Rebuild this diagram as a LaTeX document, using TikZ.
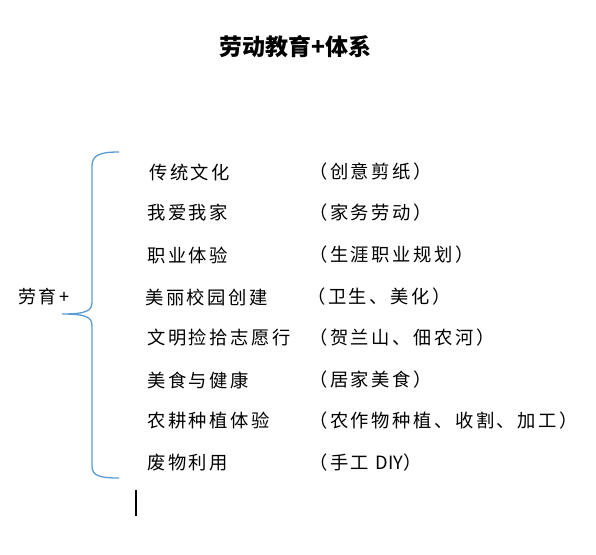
\documentclass[tikz,border=0pt]{standalone}
\usepackage{fontspec}
\newfontfamily\cjk[LetterSpace=14]{Noto Sans CJK SC}
\newfontfamily\cjkplain{Noto Sans CJK SC}
\definecolor{bracblue}{RGB}{91,155,213}
\usetikzlibrary{positioning}

\begin{document}
\begin{tikzpicture}[x=1pt,y=-1pt,
  laoitem/.style={anchor=west,inner sep=0pt,font=\cjk\fontsize{18.3}{20}\selectfont},
  laonote/.style={anchor=west,inner sep=0pt,font=\cjk\fontsize{18.3}{20}\selectfont},
  laobrace/.style={draw=bracblue,line width=1.3pt}
]
  \useasboundingbox (0,0) rectangle (596,554);

  % Title
  \node[font=\cjkplain\bfseries\fontsize{23}{26}\selectfont,inner sep=0pt] (title) at (295,47) {劳动教育+体系};

  % Root label
  \node[anchor=west,inner sep=0pt,font=\cjk\fontsize{18}{20}\selectfont] (lao) at (18,297) {劳育+};

  % Brace
  \coordinate (brtop) at (119,152);
  \coordinate (brtip) at (62,314);
  \coordinate (brbot) at (119,478);
  \draw[laobrace] (brtop) .. controls (100,152) and (92,155) .. (92,166) -- (92,302)
    .. controls (92,311) and (86,314) .. (brtip)
    .. controls (86,314) and (92,317) .. (92,326) -- (92,466)
    .. controls (92,476) and (100,478) .. (brbot);

  % Items
  \node[laoitem] (i1) at (149,172) {传统文化};
  \node[laoitem] (i2) at (147,213) {我爱我家};
  \node[laoitem] (i3) at (147,255) {职业体验};
  \node[laoitem] (i4) at (145,297) {美丽校园创建};
  \node[laoitem] (i5) at (147,338) {文明捡拾志愿行};
  \node[laoitem] (i6) at (147,380) {美食与健康};
  \node[laoitem] (i7) at (147,421) {农耕种植体验};
  \node[laoitem] (i8) at (147,463) {废物利用};

  % Notes
  \node[laonote] (n1) at (309,172) {（创意剪纸）};
  \node[laonote] (n2) at (309,213) {（家务劳动）};
  \node[laonote] (n3) at (309,255) {（生涯职业规划）};
  \node[laonote] (n4) at (307,297) {（卫生、美化）};
  \node[laonote] (n5) at (309,338) {（贺兰山、佃农河）};
  \node[laonote] (n6) at (309,380) {（居家美食）};
  \node[laonote] (n7) at (309,421) {（农作物种植、收割、加工）};
  \node[laonote] (n8) at (309,463) {（手工 {\cjkplain DIY}）};

  % Cursor
  \coordinate (curtop) at (136,490);
  \coordinate (curbot) at (136,516);
  \draw[line width=1.6pt] (curtop) -- (curbot);
\end{tikzpicture}
\end{document}
